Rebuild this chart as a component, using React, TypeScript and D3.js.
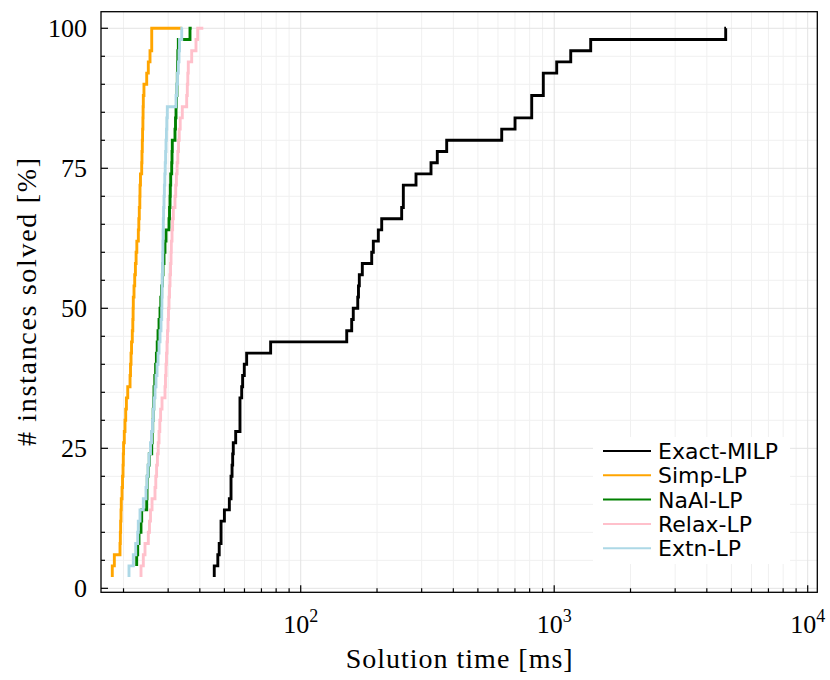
import React from 'react';
import * as d3 from 'd3';

const N_INSTANCES = 50;

const seriesNames = ['Exact-MILP', 'Simp-LP', 'NaAl-LP', 'Relax-LP', 'Extn-LP'];
const seriesColors = ['#000000', '#FFA500', '#008000', '#FFC0CB', '#ADD8E6'];

// solution times in ms (sorted)
const exactMILP = [45.6, 47.1, 47.7, 48.5, 48.5, 50.0, 52.3, 53.1, 53.1, 53.6, 53.9, 54.2, 55.4, 57.6, 57.6, 57.6, 58.5, 59.0, 59.9, 61.2, 76.1, 151.9, 158.9, 161.2, 167.9, 169.0, 170.3, 175.0, 190.6, 193.4, 202.4, 208.7, 250.2, 254.0, 254.0, 285.0, 326.6, 345.8, 376.6, 620.8, 700.6, 815.2, 815.2, 905.7, 905.7, 1023, 1162, 1393, 4748, 4760];
const simpLP = [18.06, 18.40, 19.37, 19.43, 19.48, 19.55, 19.60, 19.73, 19.82, 19.91, 19.96, 20.01, 20.14, 20.27, 20.40, 20.53, 20.78, 21.22, 21.31, 21.41, 21.51, 21.66, 21.76, 21.82, 21.86, 22.00, 22.14, 22.28, 22.42, 22.57, 22.88, 22.98, 23.08, 23.19, 23.23, 23.33, 23.59, 23.65, 23.72, 23.78, 23.85, 23.89, 23.94, 24.08, 24.69, 25.05, 25.44, 25.84, 25.84, 33.93];
const naalLP = [22.54, 22.75, 23.02, 23.44, 23.59, 24.69, 24.76, 24.82, 25.05, 25.28, 25.84, 25.95, 26.07, 26.19, 26.31, 26.38, 26.57, 26.77, 26.96, 27.16, 27.36, 27.61, 27.86, 28.06, 28.27, 28.47, 28.63, 28.89, 29.15, 29.42, 30.23, 30.37, 30.51, 30.59, 30.70, 30.98, 31.07, 31.15, 31.92, 32.07, 32.22, 32.36, 32.51, 32.60, 32.69, 32.75, 32.90, 36.58, 37.15];
const relaxLP = [23.44, 23.94, 24.31, 25.05, 25.32, 25.55, 25.91, 26.62, 26.81, 27.01, 27.21, 27.41, 27.61, 27.81, 28.01, 28.37, 29.15, 29.28, 29.42, 29.55, 29.69, 29.82, 29.96, 30.09, 30.23, 30.37, 30.51, 30.65, 30.79, 30.87, 31.07, 31.24, 31.44, 31.92, 32.13, 32.33, 32.54, 32.75, 32.96, 33.17, 33.47, 34.11, 35.50, 35.70, 35.86, 36.02, 37.15, 38.63, 39.23, 41.28];
const extnLP = [21.02, 21.86, 22.34, 22.75, 22.87, 23.23, 23.94, 24.53, 24.76, 24.98, 25.21, 25.55, 25.79, 26.02, 26.21, 26.38, 26.62, 26.86, 27.11, 27.36, 27.61, 27.86, 28.11, 28.29, 28.34, 28.39, 28.45, 28.50, 28.55, 28.60, 28.65, 28.71, 28.78, 28.89, 28.99, 29.10, 29.21, 29.31, 29.42, 29.53, 29.63, 29.77, 32.22, 32.45, 32.66, 32.90, 33.11, 33.26, 33.93, 34.24];

const seriesTimes = [exactMILP, simpLP, naalLP, relaxLP, extnLP];

const yTicks = [0, 25, 50, 75, 100];
const yMinorTicks = [5, 10, 15, 20, 30, 35, 40, 45, 55, 60, 65, 70, 80, 85, 90, 95];
const xTickExps = [2, 3, 4];

const xLabel = 'Solution time [ms]';
const yLabel = '# instances solved [%]';

export default function App() {
  const W = 830, H = 680;
  const L = 101, R = 817.3, T = 11.7, B = 592.3;
  const x = d3.scaleLog().domain([16.3, 10911]).range([L, R]);
  const y = d3.scaleLinear().domain([-0.71, 102.96]).range([B, T]);

  const [d0, d1] = x.domain();
  const xMinor: number[] = [];
  for (let e = 1; e <= 4; e++) {
    for (let k = 2; k <= 9; k++) {
      const v = k * Math.pow(10, e);
      if (v >= d0 && v <= d1) xMinor.push(v);
    }
  }
  const xMajor = xTickExps.map((e) => Math.pow(10, e));

  const line = d3
    .line<{ t: number; p: number }>()
    .x((d) => x(d.t))
    .y((d) => y(d.p))
    .curve(d3.curveStepBefore);

  const paths = seriesTimes.map((ts) => {
    const off = N_INSTANCES - ts.length;
    const pts = ts.map((t, i) => ({ t, p: (100 * (off + i + 1)) / N_INSTANCES }));
    return line(pts) || '';
  });

  const serif = 'Liberation Serif';
  const sans = 'DejaVu Sans';

  const legX1 = 603, legX2 = 651, legTextX = 658, legY0 = 451, legDy = 24.3;

  return (
    <svg width={W} height={H} style={{ position: 'absolute', left: 0, top: 0, background: '#fff' }}>
      <rect x={0} y={0} width={W} height={H} fill="#fff" />
      <defs>
        <clipPath id="plotclip">
          <rect x={L} y={T} width={R - L} height={B - T} />
        </clipPath>
      </defs>
      <g>
        {xMinor.map((v) => (
          <line key={'gx' + v} x1={x(v)} x2={x(v)} y1={T} y2={B} stroke="#f0f0f0" strokeWidth={1} />
        ))}
        {yMinorTicks.map((v) => (
          <line key={'gy' + v} x1={L} x2={R} y1={y(v)} y2={y(v)} stroke="#f0f0f0" strokeWidth={1} />
        ))}
        {xMajor.map((v) => (
          <line key={'gX' + v} x1={x(v)} x2={x(v)} y1={T} y2={B} stroke="#e3e3e3" strokeWidth={1} />
        ))}
        {yTicks.map((v) => (
          <line key={'gY' + v} x1={L} x2={R} y1={y(v)} y2={y(v)} stroke="#e3e3e3" strokeWidth={1} />
        ))}
      </g>
      <rect x={593} y={437} width={197} height={127} fill="#fff" />
      <g clipPath="url(#plotclip)">
        {paths.map((d, i) => (
          <path key={i} d={d} fill="none" stroke={seriesColors[i]} strokeWidth={2.9} strokeLinejoin="miter" />
        ))}
      </g>
      <g>
        {seriesNames.map((n, i) => (
          <g key={n}>
            <line x1={legX1} x2={legX2} y1={legY0 + i * legDy} y2={legY0 + i * legDy} stroke={seriesColors[i]} strokeWidth={2} />
            <text x={legTextX} y={legY0 + i * legDy + 8} style={{ fontFamily: sans, fontSize: '22px' }} fill="#000">
              {n}
            </text>
          </g>
        ))}
      </g>
      <rect x={L} y={T} width={R - L} height={B - T} fill="none" stroke="#000" strokeWidth={1.3} />
      {xMinor.map((v) => (
        <line key={'tx' + v} x1={x(v)} x2={x(v)} y1={B} y2={B - 4} stroke="#000" strokeWidth={1.2} />
      ))}
      {xMajor.map((v) => (
        <line key={'tX' + v} x1={x(v)} x2={x(v)} y1={B} y2={B - 7} stroke="#000" strokeWidth={1.2} />
      ))}
      {yMinorTicks.map((v) => (
        <line key={'ty' + v} x1={L} x2={L + 4} y1={y(v)} y2={y(v)} stroke="#000" strokeWidth={1.2} />
      ))}
      {yTicks.map((v) => (
        <line key={'tY' + v} x1={L} x2={L + 7} y1={y(v)} y2={y(v)} stroke="#000" strokeWidth={1.2} />
      ))}
      {yTicks.map((v) => (
        <text key={'ly' + v} x={87} y={y(v) + 9} textAnchor="end" style={{ fontFamily: serif, fontSize: '26px' }} fill="#000">
          {v}
        </text>
      ))}
      {xTickExps.map((e) => (
        <text key={'lx' + e} x={x(Math.pow(10, e))} y={633} textAnchor="middle" style={{ fontFamily: serif, fontSize: '26px' }} fill="#000">
          <tspan>10</tspan>
          <tspan style={{ fontSize: '18px' }} dy={-11}>
            {e}
          </tspan>
        </text>
      ))}
      <text x={(L + R) / 2} y={668} textAnchor="middle" style={{ fontFamily: serif, fontSize: '28px' }} fill="#000" textLength={227} lengthAdjust="spacing">
        {xLabel}
      </text>
      <text
        transform={`translate(36, ${(T + B) / 2}) rotate(-90)`}
        textAnchor="middle"
        style={{ fontFamily: serif, fontSize: '28px' }}
        fill="#000"
        textLength={288}
        lengthAdjust="spacing"
      >
        {yLabel}
      </text>
    </svg>
  );
}
